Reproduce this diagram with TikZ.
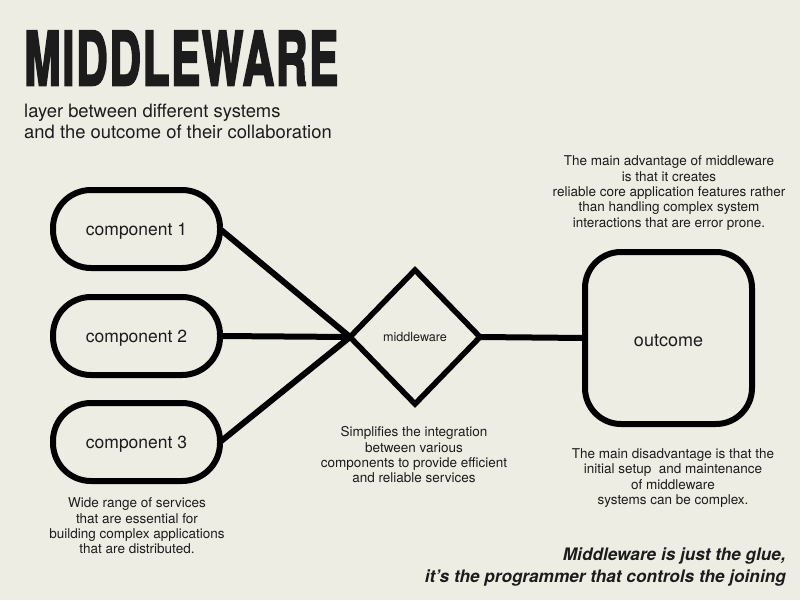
\documentclass[tikz,border=0pt]{standalone}
\usepackage{fontspec}
\setmainfont{TeX Gyre Heros}
\newfontfamily\headfont[FakeBold=3.5,LetterSpace=4]{texgyreheros-bold.otf}
\usetikzlibrary{shapes.geometric}
\definecolor{paper}{HTML}{EEEDE3}
\definecolor{ink}{HTML}{1C1C1C}
\tikzset{
  compbox/.style={draw=black, line width=6pt, rectangle, rounded corners=38pt,
    minimum width=167pt, minimum height=78pt, inner sep=0pt, outer sep=0pt,
    text=ink, font=\fontsize{17.5}{20}\selectfont,
    text height=14pt, text depth=2pt},
  mwbox/.style={draw=black, line width=5.5pt, diamond, minimum width=130pt,
    minimum height=134pt, inner sep=0pt, outer sep=0pt, text=ink,
    font=\fontsize{12.6}{15}\selectfont},
  outbox/.style={draw=black, line width=6pt, rectangle, rounded corners=36pt,
    minimum width=167pt, minimum height=172pt, inner sep=0pt, outer sep=0pt,
    text=ink, font=\fontsize{18}{20}\selectfont,
    text height=17pt, text depth=1pt},
  note/.style={align=center, inner sep=0pt, text=ink,
    font=\fontsize{13.5}{15.3}\selectfont},
  link/.style={draw=black, line width=6pt},
}
\begin{document}
\begin{tikzpicture}[x=1pt, y=-1pt]
  \fill[paper] (0,0) rectangle (800,600);
  \useasboundingbox (0,0) rectangle (800,600);

  % heading
  \node[anchor=base west, inner sep=0pt, text=ink,
        font=\fontsize{74}{80}\headfont] (title) at (24,85)
        {\scalebox{0.59}[1]{MIDDLEWARE}};
  \node[anchor=north west, align=left, inner sep=0pt, text=ink,
        font=\fontsize{18.4}{21}\selectfont] (subtitle) at (24,103.6)
        {layer between different systems\\and the outcome of their collaboration};

  % components, middleware and outcome
  \node[compbox] (c1) at (136.5,229) {component 1};
  \node[compbox] (c2) at (136.5,336) {component 2};
  \node[compbox] (c3) at (136.5,442) {component 3};
  \node[mwbox] (mw) at (415,337) {middleware};
  \node[outbox] (out) at (668.5,338) {outcome};

  % connectors
  \draw[link] (c1.east) -- (mw.west);
  \draw[link] (c2.east) -- (mw.west);
  \draw[link] (c3.east) -- (mw.west);
  \draw[link] (mw.east) -- (out.west);

  % notes
  \node[note] (adv) at (669,193)
    {The main advantage of middleware\\is that it creates\\reliable core application features rather\\than handling complex system\\interactions that are error prone.};
  \node[note] (simp) at (414,455)
    {Simplifies the integration\\between various\\components to provide efficient\\and reliable services};
  \node[note] (dis) at (673,478)
    {The main disadvantage is that the\\initial setup\ \ and maintenance\\of middleware\\systems can be complex.};
  \node[note] (wide) at (137,526)
    {Wide range of services\\that are essential for\\building complex applications\\that are distributed.};

  % closing remark
  \node[anchor=east, align=right, inner sep=0pt, text=ink,
        font=\fontsize{17.2}{22}\selectfont\bfseries\itshape] (quote) at (786,567)
    {Middleware is just the glue,\\it's the programmer that controls the joining};
\end{tikzpicture}
\end{document}
